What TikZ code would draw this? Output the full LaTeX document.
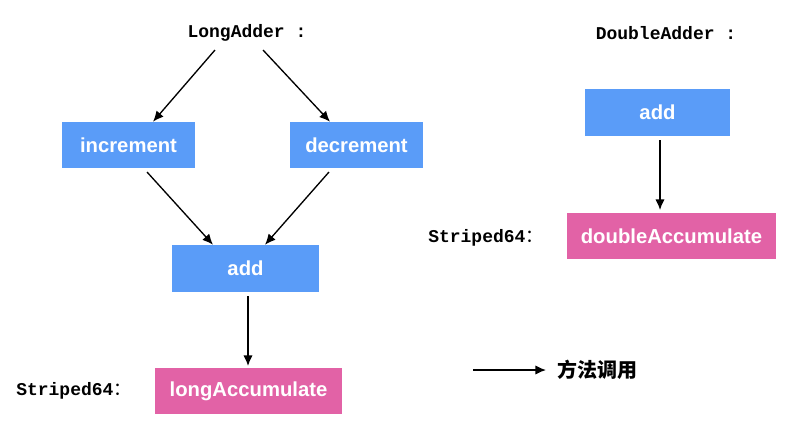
\documentclass[tikz,border=0pt]{standalone}
\usepackage{fontspec}
\setmainfont{Liberation Sans}
\newfontfamily\monof{Liberation Mono}
\newfontfamily\cjk{Noto Sans CJK SC}
\usetikzlibrary{arrows.meta}
\definecolor{boxblue}{HTML}{5A9CF8}
\definecolor{boxpink}{HTML}{E262A6}
\tikzset{
  bbox/.style={fill=boxblue, text=white, font=\bfseries\fontsize{15.2}{18}\selectfont, inner sep=0pt, minimum height=34.5pt},
  pbox/.style={fill=boxpink, text=white, font=\bfseries\fontsize{15.2}{18}\selectfont, inner sep=0pt, minimum height=34.5pt},
  mono/.style={font=\monof\bfseries\fontsize{13.5}{16}\selectfont, inner sep=0pt},
  arr/.style={-{Latex[length=8pt,width=7pt]}, line width=1pt, black},
}
\begin{document}
\begin{tikzpicture}[x=0.75pt, y=-0.75pt]
\useasboundingbox (0,0) rectangle (802,447);
\node[mono] (la) at (247,33) {LongAdder :};
\node[mono] (da) at (666,33) {DoubleAdder :};
\node[bbox, minimum width=99.75pt] (inc) at (128.5,145) {increment};
\node[bbox, minimum width=99.75pt] (dec) at (356.5,145) {decrement};
\node[bbox, minimum width=110.25pt, minimum height=35.25pt] (addl) at (245.5,268.5) {add};
\node[pbox, minimum width=140.25pt] (lacc) at (248.5,391) {longAccumulate};
\node[bbox, minimum width=108.75pt, minimum height=35.25pt] (addr) at (657.5,112.5) {add};
\node[pbox, minimum width=156.75pt] (dacc) at (671.5,236) {doubleAccumulate};
\node[mono, anchor=west] (s1) at (16,391) {Striped64{\cjk\mdseries ：}};
\node[mono, anchor=west] (s2) at (428,238) {Striped64{\cjk\mdseries ：}};
\coordinate (l1) at (473,370);
\coordinate (l2) at (546,370);
\node[anchor=west, font=\cjk\bfseries\fontsize{15}{18}\selectfont, inner sep=0pt] (leg) at (557,370) {方法调用};
\coordinate (a1) at (248,296);
\coordinate (a2) at (248,366);
\coordinate (b1) at (660,140);
\coordinate (b2) at (660,210);
\draw[arr] (215,50) -- (inc.north -| 153,0);
\draw[arr] (263,50) -- (dec.north -| 330,0);
\draw[arr] (147,172) -- (addl.north -| 213,0);
\draw[arr] (329,172) -- (addl.north -| 265,0);
\draw[arr] (a1) -- (a2);
\draw[arr] (b1) -- (b2);
\draw[arr] (l1) -- (l2);
\end{tikzpicture}
\end{document}
